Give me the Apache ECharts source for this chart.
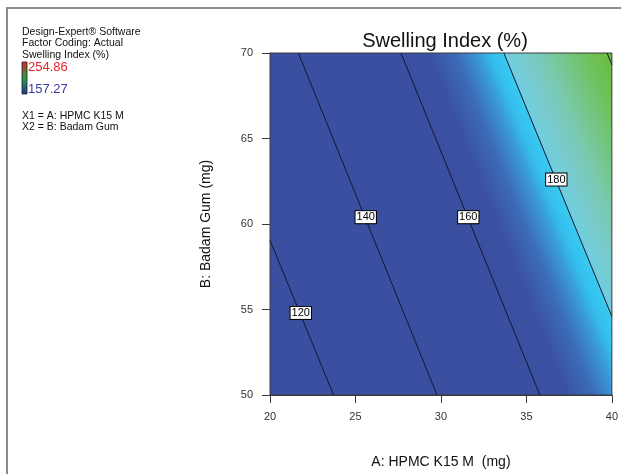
<!DOCTYPE html>
<html>
<head>
<meta charset="utf-8">
<script src="https://cdn.jsdelivr.net/npm/echarts@6/dist/echarts.min.js"></script>
<style>
  html, body { margin: 0; padding: 0; background: #ffffff; }
  #chart { width: 621px; height: 474px; }
</style>
</head>
<body>
<div id="chart"></div>
<script>
// Factor ranges (A: HPMC K15 M, B: Badam Gum)
const xRange = [20, 40];
const yRange = [50, 70];
const tickStep = 5;

// Contour levels of Swelling Index (%) and where each line meets the plot edges
const contourLevels = [120, 140, 160, 180, 200];
const contourStart = [[20, 59.05], [21.66, 70], [27.66, 70], [33.68, 70], [39.72, 70]];
const contourEnd = [[23.72, 50], [29.77, 50], [35.79, 50], [40, 54.59], [40, 69.31]];

// Label anchors on the labelled contours
const labelLevels = [120, 140, 160, 180];
const labelPos = [[21.8, 54.8], [25.6, 60.4], [31.6, 60.4], [36.75, 62.6]];

// Response colour scale (value -> colour) across the shaded range
const shadeFrom = 160;
const shadeTo = 200;
const fieldLevels = [160, 165.5, 170.5, 174.5, 177.5, 179.9, 180.1, 184, 188, 192, 196, 200];
const fieldColors = ['#3a4fa0', '#3b52a3', '#3c6cb8', '#3a96d8', '#34c0ed', '#38c9f1',
                     '#70cde0', '#78cbcb', '#79c9ac', '#75c585', '#6fc15c', '#69be3e'];

// Legend scale limits
const scaleMax = '254.86';
const scaleMin = '157.27';

const chart = echarts.init(document.getElementById('chart'), null, { renderer: 'canvas' });
const FONT = 'Liberation Sans, Arial, sans-serif';

function shadeItem(params, api) {
  const c = p => api.coord(p);
  const corners = [[xRange[0], yRange[0]], [xRange[1], yRange[0]],
                   [xRange[1], yRange[1]], [xRange[0], yRange[1]]].map(c);
  const i0 = contourLevels.indexOf(shadeFrom);
  const i1 = contourLevels.indexOf(shadeTo);
  const a = c(contourStart[i0]);
  const b = c(contourEnd[i0]);
  const p = c(contourStart[i1]);
  let dx = b[0] - a[0], dy = b[1] - a[1];
  const len = Math.hypot(dx, dy);
  dx /= len; dy /= len;
  const nx = -dy, ny = dx;
  const dist = (p[0] - a[0]) * nx + (p[1] - a[1]) * ny;
  const stops = fieldLevels.map((v, k) => ({
    offset: Math.min(1, Math.max(0, (v - shadeFrom) / (shadeTo - shadeFrom))),
    color: fieldColors[k]
  }));
  const grad = new echarts.graphic.LinearGradient(
    a[0], a[1], a[0] + nx * dist, a[1] + ny * dist, stops, true);
  const x0 = corners[0][0], x1 = corners[1][0], yb = corners[0][1], yt = corners[2][1];
  return {
    type: 'group',
    children: [
      { type: 'polygon', shape: { points: corners }, style: { fill: grad } },
      { type: 'rect', shape: { x: x0, y: yt, width: x1 - x0, height: yb - yt },
        style: { fill: null, stroke: '#3a3a3a', lineWidth: 1 } }
    ]
  };
}

const contourSeries = contourLevels.map((lv, i) => ({
  type: 'line',
  name: String(lv),
  data: [contourStart[i], contourEnd[i]],
  symbol: 'none',
  silent: true,
  z: 3,
  lineStyle: { color: '#101830', width: 1 }
}));

const labelSeries = {
  type: 'scatter',
  data: labelPos,
  symbolSize: 0,
  silent: true,
  z: 5,
  itemStyle: { opacity: 1 },
  label: {
    show: true,
    position: 'inside',
    formatter: p => String(labelLevels[p.dataIndex]),
    fontFamily: FONT,
    fontSize: 11,
    lineHeight: 11,
    color: '#000000',
    opacity: 1,
    backgroundColor: '#ffffff',
    borderColor: '#000000',
    borderWidth: 1,
    padding: [1, 1, 0, 1]
  }
};

const axisCommon = {
  type: 'value',
  interval: tickStep,
  axisLine: { show: true, lineStyle: { color: '#3a3a3a', width: 1 } },
  axisTick: { show: true, inside: false, length: 8, lineStyle: { color: '#3a3a3a' } },
  splitLine: { show: false },
  axisLabel: { fontFamily: FONT, fontSize: 11, color: '#333' },
  nameTextStyle: { fontFamily: FONT, fontSize: 14, color: '#111' },
  nameLocation: 'middle'
};

const option = {
  animation: false,
  backgroundColor: '#ffffff',
  title: {
    text: 'Swelling Index (%)',
    left: 440,
    textAlign: 'center',
    top: 26,
    textStyle: { fontFamily: FONT, fontSize: 20, fontWeight: 'normal', color: '#111' }
  },
  grid: { left: 270, right: 9, top: 53, bottom: 77, show: false },
  xAxis: Object.assign({}, axisCommon, {
    min: xRange[0], max: xRange[1],
    name: 'A: HPMC K15 M  (mg)',
    nameGap: 60,
    axisLabel: Object.assign({}, axisCommon.axisLabel, { margin: 16 })
  }),
  yAxis: Object.assign({}, axisCommon, {
    min: yRange[0], max: yRange[1],
    name: 'B: Badam Gum (mg)',
    nameGap: 57,
    axisLabel: Object.assign({}, axisCommon.axisLabel, { margin: 17 })
  }),
  graphic: [
    { type: 'polyline', shape: { points: [[7, 474], [7, 8], [621, 8]] },
      style: { stroke: '#8c8c8c', lineWidth: 2, fill: null } },
    { type: 'text', left: 22, top: 26,
      style: { text: 'Design-Expert® Software\nFactor Coding: Actual\nSwelling Index (%)',
               font: '10.5px ' + FONT, lineHeight: 11.5, fill: '#111' } },
    { type: 'rect', shape: { x: 22, y: 62, width: 5, height: 32 },
      style: {
        fill: new echarts.graphic.LinearGradient(0, 0, 0, 1, [
          { offset: 0, color: '#e0201e' },
          { offset: 0.5, color: '#21a046' },
          { offset: 1, color: '#2232a0' }
        ]),
        stroke: '#222', lineWidth: 0.8
      } },
    { type: 'text', left: 28, top: 61,
      style: { text: scaleMax, font: '13px ' + FONT, fill: '#e8262c' } },
    { type: 'text', left: 28, top: 83,
      style: { text: scaleMin, font: '13px ' + FONT, fill: '#3a3aa6' } },
    { type: 'text', left: 22, top: 110,
      style: { text: 'X1 = A: HPMC K15 M\nX2 = B: Badam Gum',
               font: '10.5px ' + FONT, lineHeight: 11.5, fill: '#111' } }
  ],
  series: [
    { type: 'custom', renderItem: shadeItem, data: [0], silent: true, z: 1, clip: false }
  ].concat(contourSeries, [labelSeries])
};

chart.setOption(option);
</script>
</body>
</html>
